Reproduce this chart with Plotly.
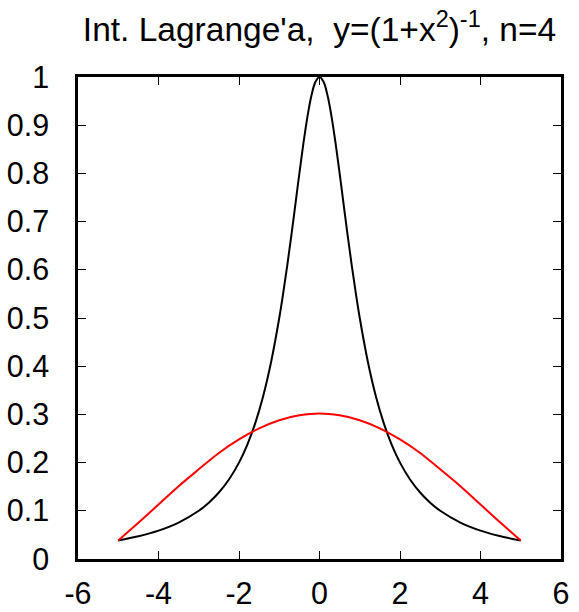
import plotly.graph_objects as go

x_f = [-5, -4.5, -4, -3.5, -3, -2.75, -2.5, -2.25, -2, -1.8, -1.6, -1.4, -1.2, -1,
       -0.9, -0.8, -0.7, -0.6, -0.5, -0.4, -0.3, -0.2, -0.1, 0,
       0.1, 0.2, 0.3, 0.4, 0.5, 0.6, 0.7, 0.8, 0.9, 1,
       1.2, 1.4, 1.6, 1.8, 2, 2.25, 2.5, 2.75, 3, 3.5, 4, 4.5, 5]
y_f = [0.0385, 0.0471, 0.0588, 0.0755, 0.1, 0.1168, 0.1379, 0.1649, 0.2, 0.2358, 0.2809, 0.3378, 0.4098, 0.5,
       0.5525, 0.6098, 0.6711, 0.7353, 0.8, 0.8621, 0.9174, 0.9615, 0.99, 1.0,
       0.99, 0.9615, 0.9174, 0.8621, 0.8, 0.7353, 0.6711, 0.6098, 0.5525, 0.5,
       0.4098, 0.3378, 0.2809, 0.2358, 0.2, 0.1649, 0.1379, 0.1168, 0.1, 0.0755, 0.0588, 0.0471, 0.0385]

# Lagrange interpolating polynomial (red)
x_p = [-5, -4.5, -4, -3.5, -3, -2.5, -2, -1.5, -1, -0.5, 0,
       0.5, 1, 1.5, 2, 2.5, 3, 3.5, 4, 4.5, 5]
y_p = [0.0385, 0.075, 0.113, 0.151, 0.186, 0.220, 0.248, 0.271, 0.288, 0.298, 0.302,
       0.298, 0.288, 0.271, 0.248, 0.220, 0.186, 0.151, 0.113, 0.075, 0.0385]

# Tick labels
x_tickvals = [-6, -4, -2, 0, 2, 4, 6]
x_ticktext = ["-6", "-4", "-2", "0", "2", "4", "6"]
y_tickvals = [0, 0.1, 0.2, 0.3, 0.4, 0.5, 0.6, 0.7, 0.8, 0.9, 1]
y_ticktext = ["0", "0.1", "0.2", "0.3", "0.4", "0.5", "0.6", "0.7", "0.8", "0.9", "1"]

title_text = "Int. Lagrange'a,\u00a0 y=(1+x<sup>2</sup>)<sup>-1</sup>, n=4"

fig = go.Figure()
fig.add_trace(go.Scatter(x=x_f, y=y_f, mode="lines",
                         line=dict(color="black", width=2, shape="spline"),
                         showlegend=False))
fig.add_trace(go.Scatter(x=x_p, y=y_p, mode="lines",
                         line=dict(color="#ff0000", width=2, shape="spline"),
                         showlegend=False))

font_family = "Liberation Sans"
axis_common = dict(showgrid=False, zeroline=False, showline=True, linecolor="black",
                   linewidth=2.5, mirror="allticks", ticks="inside", ticklen=8,
                   tickwidth=1, tickcolor="black", automargin=False,
                   tickfont=dict(family=font_family, size=30.5, color="black"))

fig.update_layout(
    width=579, height=612,
    margin=dict(l=78, r=18, t=77, b=53, autoexpand=False),
    paper_bgcolor="white", plot_bgcolor="white",
    title=dict(text=title_text, x=0.5, xref="paper", y=1 - 29 / 612, yref="container",
               xanchor="center", yanchor="middle", automargin=False,
               font=dict(family=font_family, size=33.5, color="black")),
    xaxis=dict(range=[-6, 6], tickmode="array", tickvals=x_tickvals, ticktext=x_ticktext,
               ticklabelstandoff=6, **axis_common),
    yaxis=dict(range=[0, 1], tickmode="array", tickvals=y_tickvals, ticktext=y_ticktext,
               ticklabelstandoff=20, **axis_common),
)

fig.write_html("out.html", config={"displayModeBar": False},
               post_script="document.body.style.margin='0';")
